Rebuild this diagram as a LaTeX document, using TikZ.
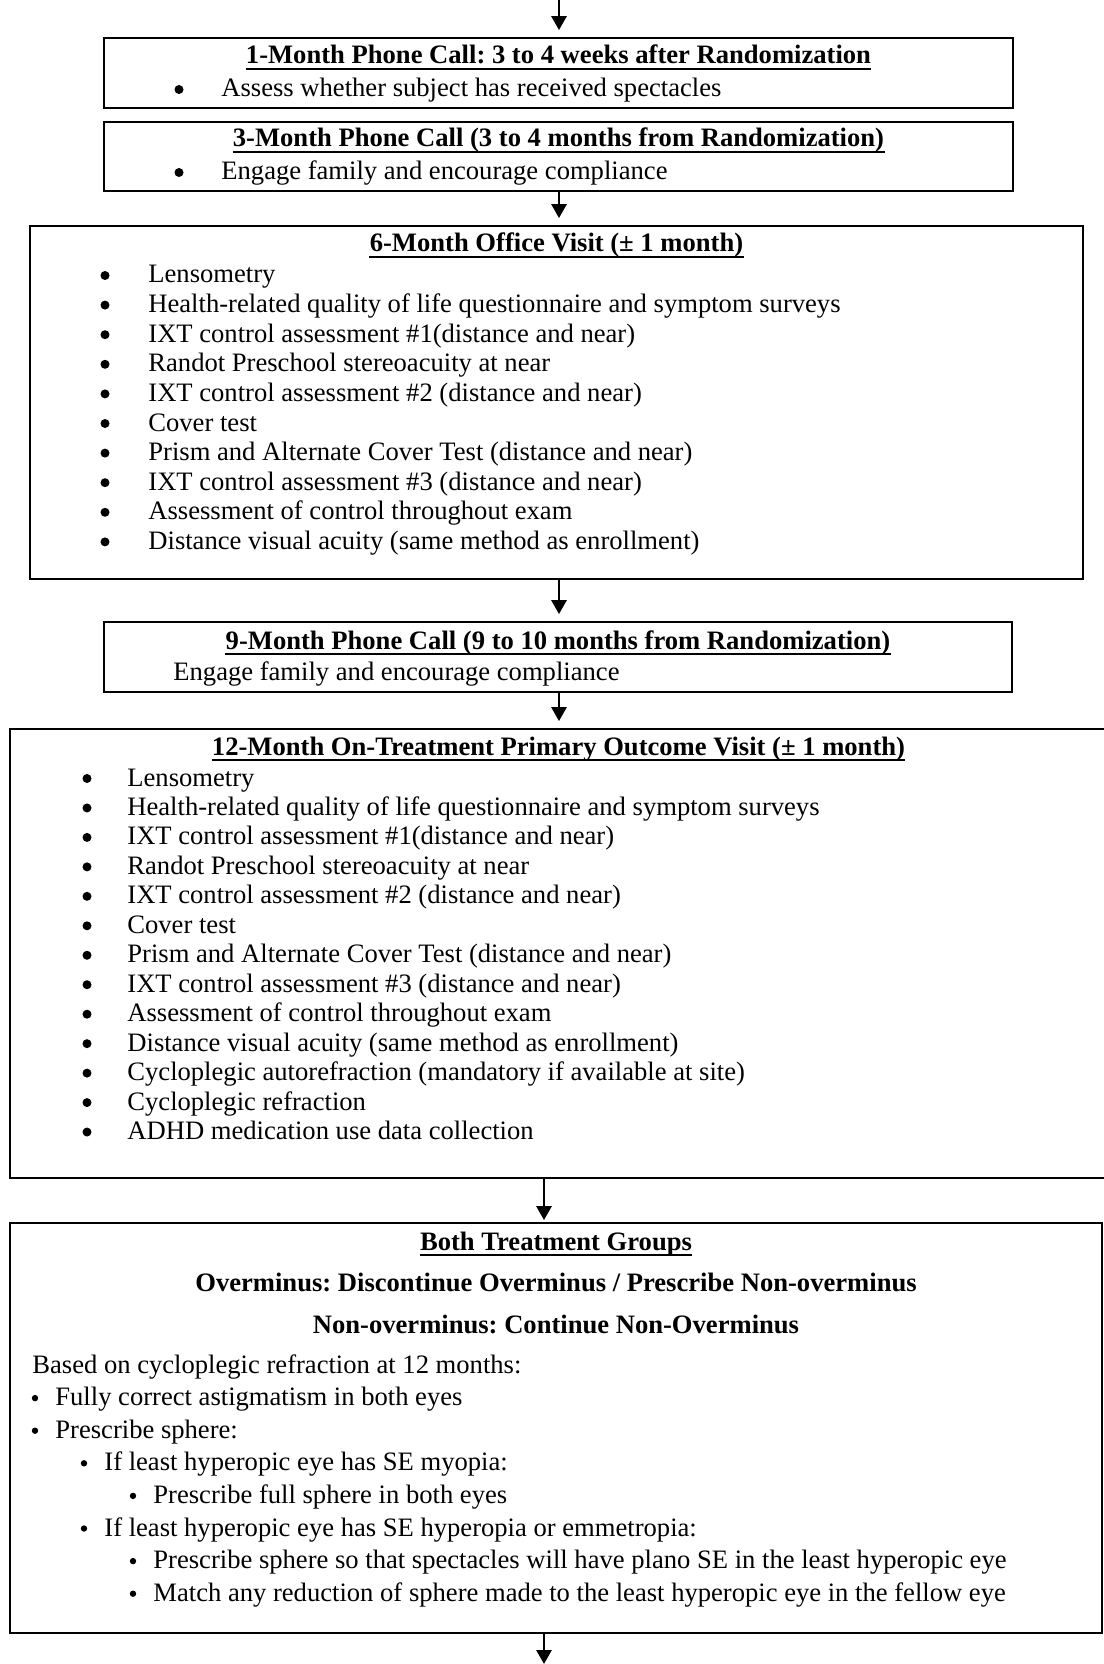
\documentclass[tikz,border=0pt]{standalone}
\usepackage{fontspec}
\setmainfont{Liberation Serif}
\usetikzlibrary{arrows.meta,positioning}
\frenchspacing

\tikzset{
	visitbox/.style={draw, line width=0.9pt, inner sep=0pt},
	txt/.style={inner sep=0pt, anchor=base west, font=\fontsize{13.3}{15}\selectfont},
	head/.style={inner sep=0pt, anchor=base, font=\fontsize{13.3}{15}\selectfont\bfseries},
	dot/.style={circle, fill, inner sep=0pt, minimum size=4.5pt},
	smalldot/.style={circle, fill, inner sep=0pt, minimum size=3.2pt},
	flow/.style={-{Triangle[width=7.5pt,length=7pt]}, line width=1.4pt, shorten >=3.5pt},
	uline/.style={line width=1pt}
}

\begin{document}
\begin{tikzpicture}[x=0.5pt,y=-0.5pt]
	\useasboundingbox (0,0) rectangle (1103,1664);
	
	% 各框
	\node[visitbox, minimum width=454.5pt, minimum height=35pt] (call1) at (558.5,73) {};
	\node[visitbox, minimum width=454.5pt, minimum height=34.5pt] (call3) at (558.5,156.5) {};
	\node[visitbox, minimum width=526.5pt, minimum height=176.5pt] (visit6) at (556.5,402.5) {};
	\node[visitbox, minimum width=454pt, minimum height=35pt] (call9) at (558,657) {};
	\node[visitbox, minimum width=550pt, minimum height=224.5pt] (visit12) at (560,953.5) {};
	\node[visitbox, minimum width=546pt, minimum height=205pt] (rx) at (556,1428) {};
	
	% 箭头
	\coordinate (top) at (559,0);
	\coordinate (bx) at (544,0);
	\coordinate (bot) at (544,1664);
	\draw[flow] (top) -- (top |- call1.north);
	\draw[flow] (call3.south -| top) -- (visit6.north -| top);
	\draw[flow] (visit6.south -| top) -- (call9.north -| top);
	\draw[flow] (call9.south -| top) -- (visit12.north -| top);
	\draw[flow, shorten >=1pt] (visit12.south -| bx) -- (rx.north -| bx);
	\draw[flow, shorten >=0pt] (rx.south -| bx) -- (bot);
	
	% 1个月电话
	\node[head] (h1) at (558.5,64) {1-Month Phone Call: 3 to 4 weeks after Randomization};
	\node[dot] (d1) at (179,89.5) {};
	\node[txt] (t1) at (221,97) {Assess whether subject has received spectacles};
	
	% 3个月电话
	\node[head] (h3) at (558.5,147) {3-Month Phone Call (3 to 4 months from Randomization)};
	\node[dot] (d3) at (179,172.5) {};
	\node[txt] (t3) at (221,180) {Engage family and encourage compliance};
	
	% 6个月随访
	\node[head] (h6) at (556.5,252) {6-Month Office Visit (± 1 month)};
	\foreach \t [count=\i from 0] in {Lensometry,
		Health-related quality of life questionnaire and symptom surveys,
		IXT control assessment \#1(distance and near),
		Randot Preschool stereoacuity at near,
		IXT control assessment \#2 (distance and near),
		Cover test,
		Prism and Alternate Cover Test (distance and near),
		IXT control assessment \#3 (distance and near),
		Assessment of control throughout exam,
		Distance visual acuity (same method as enrollment)}
	{
		\node[dot] (d6-\i) at (105,275.5+29.6*\i) {};
		\node[txt] (t6-\i) at (148,283+29.6*\i) {\t};
	}
	
	% 9个月电话
	\node[head] (h9) at (558,649) {9-Month Phone Call (9 to 10 months from Randomization)};
	\node[txt] (t9) at (173,680) {Engage family and encourage compliance};
	
	% 12个月主要结局随访
	\node[head] (h12) at (558.5,755) {12-Month On-Treatment Primary Outcome Visit (± 1 month)};
	\foreach \t [count=\i from 0] in {Lensometry,
		Health-related quality of life questionnaire and symptom surveys,
		IXT control assessment \#1(distance and near),
		Randot Preschool stereoacuity at near,
		IXT control assessment \#2 (distance and near),
		Cover test,
		Prism and Alternate Cover Test (distance and near),
		IXT control assessment \#3 (distance and near),
		Assessment of control throughout exam,
		Distance visual acuity (same method as enrollment),
		Cycloplegic autorefraction (mandatory if available at site),
		Cycloplegic refraction,
		ADHD medication use data collection}
	{
		\node[dot] (d12-\i) at (87,778.5+29.46*\i) {};
		\node[txt] (t12-\i) at (127,786+29.46*\i) {\t};
	}
	
	% 两组处方
	\node[head] (hr1) at (556,1250) {Both Treatment Groups};
	\node[head] (hr2) at (556,1291) {Overminus: Discontinue Overminus / Prescribe Non-overminus};
	\node[head] (hr3) at (556,1333) {Non-overminus: Continue Non-Overminus};
	\node[txt] (tr0) at (32,1373) {Based on cycloplegic refraction at 12 months:};
	\foreach \lv/\t [count=\i from 1] in {1/Fully correct astigmatism in both eyes,
		1/Prescribe sphere:,
		2/If least hyperopic eye has SE myopia:,
		3/Prescribe full sphere in both eyes,
		2/If least hyperopic eye has SE hyperopia or emmetropia:,
		3/Prescribe sphere so that spectacles will have plano SE in the least hyperopic eye,
		3/Match any reduction of sphere made to the least hyperopic eye in the fellow eye}
	{
		\node[smalldot] (dr-\i) at (35+49*\lv-49,1365.5+32.6*\i) {};
		\node[txt] (tr-\i) at (55+49*\lv-49,1373+32.6*\i) {\t};
	}
	
	% 标题下划线
	\foreach \n in {h1,h3,h6,h9,h12,hr1}
	\draw[uline] ([yshift=-2.3pt]\n.base west) -- ([yshift=-2.3pt]\n.base east);
\end{tikzpicture}
\end{document}
